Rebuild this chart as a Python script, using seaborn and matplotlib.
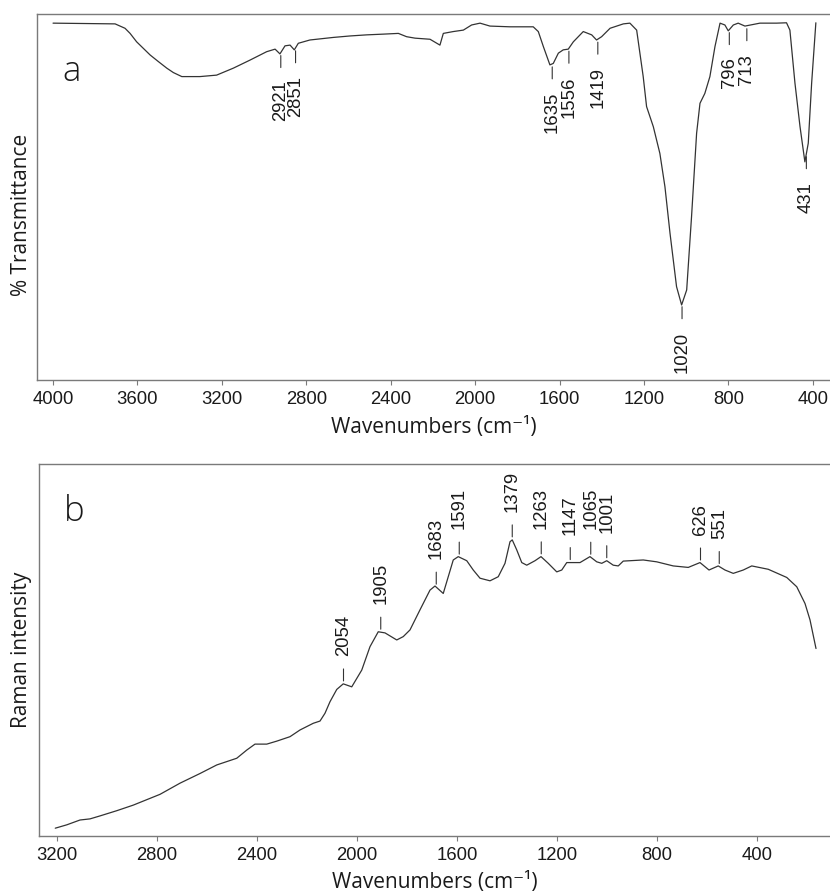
import numpy as np
import pandas as pd
import matplotlib
matplotlib.use('Agg')
import matplotlib.pyplot as plt
import seaborn as sns

# ── Data ───────────────────────────────────────────────────────────────────
# (a) FTIR, % transmittance vs wavenumber
ftir_wn = [4000, 3706, 3659, 3635, 3604, 3572, 3540, 3501, 3461, 3430, 3390,
           3304, 3225, 3146, 3067,
           2988, 2948, 2925, 2901, 2877, 2857, 2838, 2783, 2672, 2593, 2514,
           2435, 2364, 2325, 2285, 2214, 2167, 2151, 2104, 2056, 2017, 1977,
           1930, 1835, 1725, 1701, 1677, 1646, 1630, 1606, 1583, 1559, 1535,
           1488, 1448, 1425, 1401, 1361, 1298, 1267, 1235, 1204, 1188, 1156,
           1125, 1101, 1077, 1046, 1022, 998, 975, 951, 935, 912, 888, 864,
           840, 817, 801, 777, 754, 722, 651, 572, 525, 509, 485, 461, 438,
           422, 406, 386]
ftir_T = [97.5, 97.3, 96.1, 94.7, 92.4, 90.6, 88.8, 87.0, 85.2, 84.0, 82.9,
          82.9, 83.3, 85.2, 87.4,
          89.7, 90.4, 89.1, 91.3, 91.5, 90.2, 92.0, 92.9, 93.6, 94.0, 94.3,
          94.5, 94.7, 93.8, 93.4, 93.1, 91.5, 94.7, 95.2, 95.6, 97.0, 97.5,
          96.7, 96.5, 96.5, 95.2, 91.1, 86.1, 86.5, 89.3, 90.2, 90.4, 92.4,
          95.2, 94.3, 92.9, 93.8, 96.1, 97.3, 97.5, 95.6, 82.9, 74.7, 69.2,
          61.9, 52.8, 40.1, 25.5, 20.5, 24.6, 44.6, 67.4, 75.6, 78.3, 82.9, 91.1,
          97.5, 97.0, 95.4, 97.0, 97.5, 96.7, 97.5, 97.5, 97.6, 95.6, 81.1, 69.2,
          59.6, 64.7, 81.1, 97.6]
ftir_peaks = [2921, 2851, 1635, 1556, 1419, 1020, 796, 713, 431]
ftir_ticks = [4000, 3600, 3200, 2800, 2400, 2000, 1600, 1200, 800, 400]

# (b) Raman intensity vs wavenumber
raman_wn = [3207, 3161, 3108, 3068, 3028, 2961, 2895, 2788, 2708, 2628, 2561,
            2481, 2441, 2408, 2361, 2321, 2268, 2228, 2175, 2148, 2128, 2108,
            2081, 2055, 2021, 1981, 1948, 1915, 1888, 1841, 1815, 1788, 1748,
            1708, 1688, 1655, 1635, 1615, 1595, 1561, 1535, 1508, 1468, 1435,
            1408, 1388, 1379, 1361, 1341, 1321, 1288, 1264, 1235, 1201, 1181,
            1161, 1148, 1108, 1068, 1041, 1021, 1001, 975, 955, 935, 855, 801,
            735, 675, 628, 592, 555, 528, 495, 455, 421, 355, 281, 241, 208,
            188, 164]
raman_I = [2.1, 3.0, 4.3, 4.6, 5.4, 6.8, 8.3, 11.2, 14.2, 16.8, 19.1,
           20.9, 23.1, 24.7, 24.7, 25.5, 26.7, 28.5, 30.3, 30.9, 33.0, 36.1,
           39.4, 40.9, 40.1, 44.6, 50.9, 54.9, 54.6, 52.7, 53.6, 55.4, 60.8,
           66.1, 67.2, 65.2, 69.7, 74.2, 75.1, 74.0, 71.5, 69.3, 68.6, 69.7,
           73.3, 79.1, 79.6, 76.9, 73.5, 72.8, 74.0, 75.1, 73.3, 71.0, 71.5,
           73.5, 73.5, 73.5, 75.1, 73.7, 73.3, 74.0, 72.8, 72.6, 73.9, 74.2, 73.7,
           72.6, 72.2, 73.5, 71.5, 72.6, 71.5, 70.6, 71.5, 72.6, 71.7, 69.5, 67.0,
           62.5, 58.1, 50.4]
raman_peaks = [2054, 1905, 1683, 1591, 1379, 1263, 1147, 1065, 1001, 626, 551]
raman_ticks = [3200, 2800, 2400, 2000, 1600, 1200, 800, 400]

# ── Style ──────────────────────────────────────────────────────────────────
sns.set_theme(style='ticks')
plt.rcParams['font.family'] = ['Liberation Sans', 'DejaVu Sans']
LINE_C  = '#333333'
SPINE_C = '#7a7a7a'
TEXT_C  = '#1a1a1a'
PX = 0.72          # one pixel in points at dpi=100
LABEL_FONT = ['Open Sans', 'DejaVu Sans']
XLABEL = 'Wavenumbers (cm\u207b\u00b9)'


def mark_peaks(ax, wn, vals, peaks, below):
    order = np.argsort(wn)
    xs = np.asarray(wn, float)[order]
    ys = np.asarray(vals, float)[order]
    sgn = -1 if below else 1
    for p in peaks:
        v = np.interp(p, xs, ys)
        ax.annotate('', xy=(p, v), xytext=(0, sgn * 15 * PX),
                    textcoords='offset points',
                    arrowprops=dict(arrowstyle='-', lw=0.8, color=LINE_C,
                                    shrinkA=0, shrinkB=3 * PX))
        ax.annotate(str(p), xy=(p, v), xytext=(0, sgn * 28 * PX),
                    textcoords='offset points', rotation=90, ha='center',
                    va='top' if below else 'bottom', fontsize=13.3, color=TEXT_C)


def style_axis(ax, ticks, xlim):
    ax.set_xlim(*xlim)
    ax.set_ylim(0, 100)
    ax.set_xticks(ticks)
    ax.set_xticklabels([str(t) for t in ticks])
    ax.set_yticks([])
    ax.spines['right'].set_visible(False)
    for s in ['left', 'top', 'bottom']:
        ax.spines[s].set_color(SPINE_C)
        ax.spines[s].set_linewidth(1.0)
    ax.tick_params(axis='x', direction='out', length=5 * PX, width=0.8,
                   color=SPINE_C, labelsize=13.3, labelcolor=TEXT_C, pad=4)


fig = plt.figure(figsize=(8.3, 8.96), dpi=100)
ax1 = fig.add_axes([37 / 830, 1 - 380 / 896, 1 - 37 / 830, 366 / 896])
ax2 = fig.add_axes([39 / 830, 1 - 836 / 896, 1 - 39 / 830, 372 / 896])

# ── (a) FTIR ───────────────────────────────────────────────────────────────
df_a = pd.DataFrame({'wn': ftir_wn, 'T': ftir_T})
sns.lineplot(data=df_a, x='wn', y='T', ax=ax1, sort=False, estimator=None,
             color=LINE_C, linewidth=0.9)
style_axis(ax1, ftir_ticks, (4076, 319))
mark_peaks(ax1, ftir_wn, ftir_T, ftir_peaks, below=True)
ax1.set_xlabel(XLABEL, family=LABEL_FONT, fontsize=15, color=TEXT_C, labelpad=7)
ax1.set_ylabel('% Transmittance', family=LABEL_FONT, fontsize=15, color=TEXT_C)
ax1.yaxis.set_label_coords(-0.006, 0.45)
ax1.text(0.0315, 0.817, 'a', transform=ax1.transAxes, family=LABEL_FONT,
         fontsize=25, fontweight='light', color=TEXT_C, va='baseline')

# ── (b) Raman ──────────────────────────────────────────────────────────────
df_b = pd.DataFrame({'wn': raman_wn, 'I': raman_I})
sns.lineplot(data=df_b, x='wn', y='I', ax=ax2, sort=False, estimator=None,
             color=LINE_C, linewidth=0.9)
style_axis(ax2, raman_ticks, (3272, 108))
mark_peaks(ax2, raman_wn, raman_I, raman_peaks, below=False)
ax2.set_xlabel(XLABEL, family=LABEL_FONT, fontsize=15, color=TEXT_C, labelpad=6)
ax2.set_ylabel('Raman intensity', family=LABEL_FONT, fontsize=15, color=TEXT_C)
ax2.yaxis.set_label_coords(-0.009, 0.5)
ax2.text(0.0316, 0.847, 'b', transform=ax2.transAxes, family=LABEL_FONT,
         fontsize=25, fontweight='light', color=TEXT_C, va='baseline')

fig.savefig('out.png', dpi=100)
